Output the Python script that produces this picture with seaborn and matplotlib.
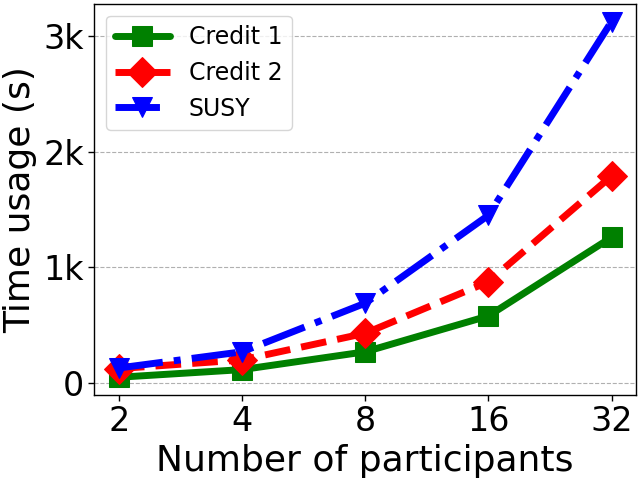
import matplotlib
matplotlib.use('Agg')
import matplotlib.pyplot as plt
import matplotlib.ticker as mticker
import pandas as pd
import seaborn as sns

participants = [2, 4, 8, 16, 32]
credit1 = [50, 116, 270, 580, 1260]
credit2 = [125, 200, 430, 875, 1790]
susy = [130, 270, 690, 1450, 3125]

series_names = ['Credit 1', 'Credit 2', 'SUSY']
series_values = [credit1, credit2, susy]
colors = ['green', 'red', 'blue']
markers = ['s', 'D', 'v']
linestyles = ['-', '--', '-.']

sns.set_style('white')
plt.rcParams['font.family'] = ['DejaVu Sans']
plt.rcParams['text.color'] = 'black'
plt.rcParams['axes.labelcolor'] = 'black'
plt.rcParams['xtick.color'] = 'black'
plt.rcParams['ytick.color'] = 'black'

fig, ax = plt.subplots(figsize = (6.4, 4.8), dpi = 100)

for name, vals, c, m, ls in zip(series_names, series_values, colors, markers, linestyles):
    df = pd.DataFrame({'x': participants, 'y': vals})
    sns.lineplot(
        data = df, x = 'x', y = 'y', ax = ax,
        color = c, marker = m, markersize = 15, linewidth = 5,
        linestyle = ls, markeredgecolor = c, label = name,
        )

ax.set_xscale('log', base = 2)
ax.set_xticks(participants)
ax.xaxis.set_major_formatter(mticker.FixedFormatter([str(p) for p in participants]))
ax.xaxis.set_minor_locator(mticker.NullLocator())

ax.set_yticks([0, 1000, 2000, 3000])
ax.set_yticklabels(['0', '1k', '2k', '3k'])
ax.yaxis.grid(True, linestyle = '--', color = '#b0b0b0', linewidth = 0.8)
ax.set_axisbelow(True)

ax.tick_params(axis = 'both', labelsize = 24, length = 4, width = 1, left = True, bottom = True)
ax.set_xlabel('Number of participants', fontsize = 26)
ax.set_ylabel('Time usage (s)', fontsize = 26)

for s in ax.spines.values():
    s.set_color('black')
    s.set_linewidth(1)

ax.legend(loc = 'upper left', fontsize = 17, handlelength = 2.3)

plt.subplots_adjust(left = 0.147, right = 0.994, top = 0.992, bottom = 0.177)
plt.savefig('out.png')
